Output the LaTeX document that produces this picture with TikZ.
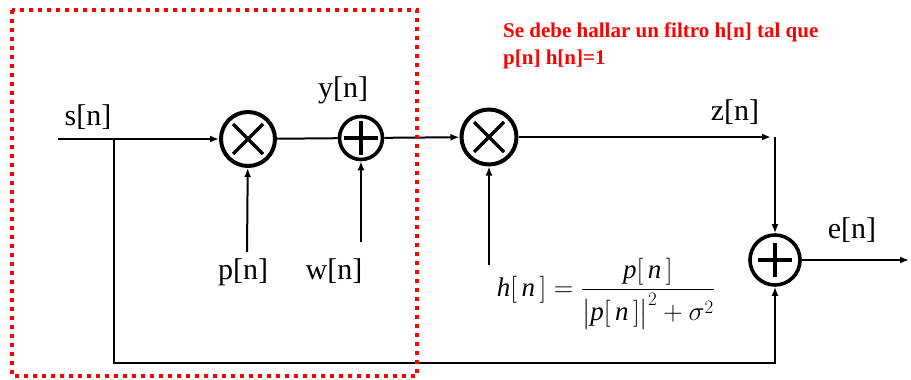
\RequirePackage{fix-cm}
\documentclass[tikz,border=0pt]{standalone}
\usepackage{amsmath}
\usepackage{fontspec}
\setmainfont{Liberation Serif}
\usetikzlibrary{positioning,arrows.meta,calc}
\tikzset{
  mult/.style={circle,draw,line width=4pt,minimum size=#1,inner sep=0pt,
    path picture={\draw[line width=3.4pt]
      ([shift={(-15pt,-15pt)}]path picture bounding box.center) -- ([shift={(15pt,15pt)}]path picture bounding box.center)
      ([shift={(-15pt,15pt)}]path picture bounding box.center) -- ([shift={(15pt,-15pt)}]path picture bounding box.center);}},
  summ/.style={circle,draw,line width=3.6pt,minimum size=#1,inner sep=0pt,
    path picture={\draw[line width=3.8pt]
      ([xshift=-17pt]path picture bounding box.center) -- ([xshift=17pt]path picture bounding box.center)
      ([yshift=-17pt]path picture bounding box.center) -- ([yshift=17pt]path picture bounding box.center);}},
  sig/.style={-{Latex[length=9pt,width=7pt]},line width=2pt},
  wire/.style={line width=2pt},
  lbl/.style={font=\fontsize{30}{36}\selectfont,inner sep=0pt},
  nota/.style={red,font=\bfseries\fontsize{21}{27}\selectfont,align=left,inner sep=0pt},
  marco/.style={red,line width=3.5pt,dash pattern=on 4pt off 5pt},
}
\begin{document}
\begin{tikzpicture}[x=1pt,y=-1pt]
  \useasboundingbox (0,0) rectangle (911,380);
  \node[mult=54pt] (m1) at (248,139) {};
  \node[summ=43pt] (a1) at (361,138) {};
  \node[mult=55pt] (m2) at (489,137) {};
  \node[summ=50pt] (a2) at (775,260) {};
  \coordinate (sin) at (58,139);
  \coordinate (br) at (114,139);
  \coordinate (bl) at (114,363);
  \coordinate (pin) at (247,252);
  \coordinate (win) at (361,242);
  \coordinate (hin) at (489,265);
  \coordinate (zout) at (771,137);
  \coordinate (zdn) at (775,137);
  \coordinate (eout) at (909,260);
  \draw[sig] (sin) -- (m1);
  \draw[wire] (m1) -- (a1);
  \draw[sig] (a1) -- (m2);
  \draw[sig] (m2) -- (zout);
  \draw[sig] (zdn) -- (a2);
  \draw[sig] (br) -- (bl) -| (a2);
  \draw[sig] (pin) -- (m1);
  \draw[sig] (win) -- (a1);
  \draw[sig] (hin) -- (m2);
  \draw[sig] (a2) -- (eout);
  \node[lbl] (s) at (88,117) {s[n]};
  \node[lbl] (y) at (343,90) {y[n]};
  \node[lbl] (z) at (735,112) {z[n]};
  \node[lbl] (e) at (852,230) {e[n]};
  \node[lbl] (p) at (243,272) {p[n]};
  \node[lbl] (w) at (334,271) {w[n]};
  \node[font=\fontsize{27}{32}\selectfont,inner sep=0pt] (hf) at (606,294)
    {$\mathit{h}[\,\mathit{n}\,]=\dfrac{\mathit{p}[\,\mathit{n}\,]}{\bigl|\mathit{p}[\,\mathit{n}\,]\bigr|^2+\sigma^2}$};
  \node[nota,anchor=north west] (txt) at (503,23) {Se debe hallar un filtro h[n] tal que\\p[n] h[n]=1};
  \draw[marco] (12,10) rectangle (417,376);
\end{tikzpicture}
\end{document}
